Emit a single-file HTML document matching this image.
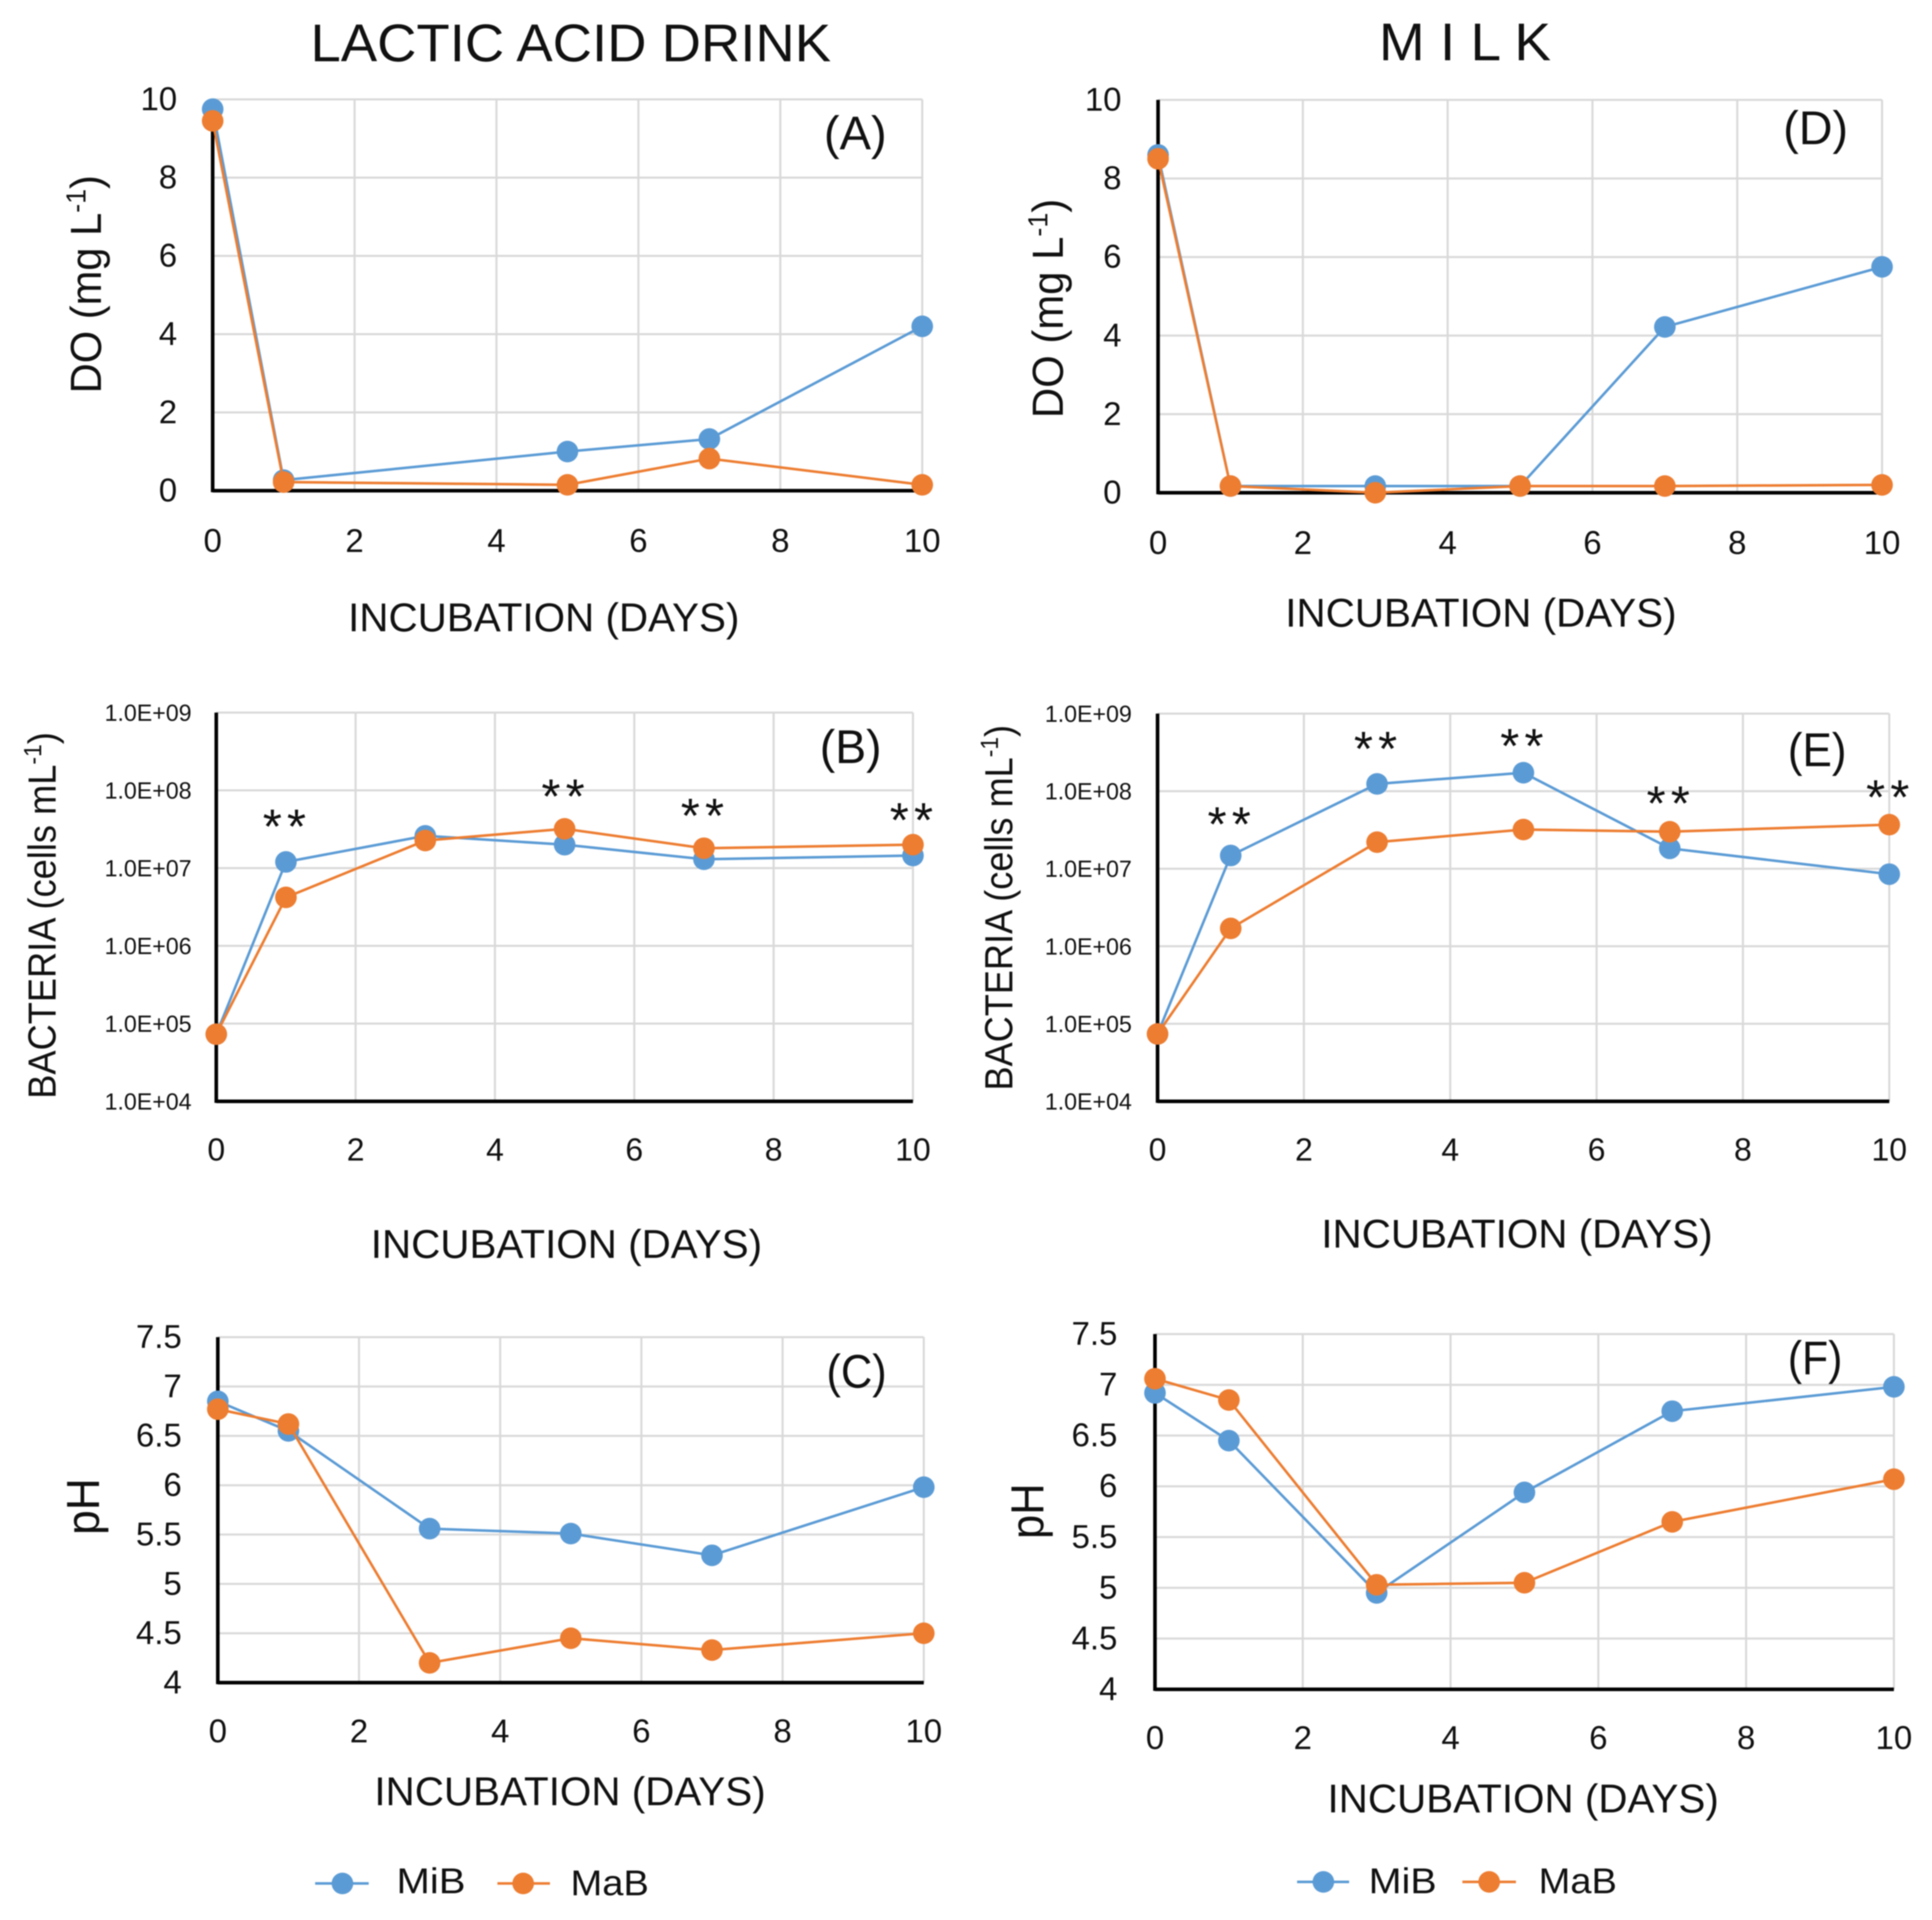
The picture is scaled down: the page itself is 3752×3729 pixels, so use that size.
<!DOCTYPE html>
<html>
<head>
<meta charset="utf-8">
<title>Incubation charts</title>
<style>
html,body{margin:0;padding:0;background:#fff}
svg{display:block;filter:blur(1px)}
text{font-family:"Liberation Sans",sans-serif;fill:#111}
</style>
</head>
<body>
<svg id="figure" xmlns="http://www.w3.org/2000/svg" width="3752" height="3729" viewBox="0 0 3752 3729">
<rect width="3752" height="3729" fill="#ffffff"/>
<text x="603" y="119" font-size="103" textLength="1011" lengthAdjust="spacingAndGlyphs">LACTIC ACID DRINK</text>
<text x="2678" y="117" font-size="103" textLength="334" lengthAdjust="spacingAndGlyphs">M I L K</text>

<text x="676" y="1226" font-size="78" textLength="760" lengthAdjust="spacingAndGlyphs">INCUBATION (DAYS)</text>
<text x="2496" y="1217" font-size="78" textLength="760" lengthAdjust="spacingAndGlyphs">INCUBATION (DAYS)</text>
<text x="720" y="2443" font-size="78" textLength="760" lengthAdjust="spacingAndGlyphs">INCUBATION (DAYS)</text>
<text x="2566" y="2423" font-size="78" textLength="760" lengthAdjust="spacingAndGlyphs">INCUBATION (DAYS)</text>
<text x="727" y="3506" font-size="78" textLength="760" lengthAdjust="spacingAndGlyphs">INCUBATION (DAYS)</text>
<text x="2578" y="3520" font-size="78" textLength="760" lengthAdjust="spacingAndGlyphs">INCUBATION (DAYS)</text>

<text transform="translate(196,764) rotate(-90)" font-size="84" textLength="424" lengthAdjust="spacingAndGlyphs">DO (mg L<tspan font-size="54" dy="-30">-1</tspan><tspan dy="30">)</tspan></text>
<text transform="translate(2064,812) rotate(-90)" font-size="84" textLength="426" lengthAdjust="spacingAndGlyphs">DO (mg L<tspan font-size="54" dy="-30">-1</tspan><tspan dy="30">)</tspan></text>
<text transform="translate(108,2134) rotate(-90)" font-size="76" textLength="712" lengthAdjust="spacingAndGlyphs">BACTERIA (cells mL<tspan font-size="48" dy="-28">-1</tspan><tspan dy="28">)</tspan></text>
<text transform="translate(1966,2118) rotate(-90)" font-size="76" textLength="710" lengthAdjust="spacingAndGlyphs">BACTERIA (cells mL<tspan font-size="48" dy="-28">-1</tspan><tspan dy="28">)</tspan></text>
<text transform="translate(192,2981) rotate(-90)" font-size="90" textLength="110" lengthAdjust="spacingAndGlyphs">pH</text>
<text transform="translate(2026,2989) rotate(-90)" font-size="90" textLength="108" lengthAdjust="spacingAndGlyphs">pH</text>

<g id="panels"></g>

<text x="1600" y="290" font-size="92" textLength="122" lengthAdjust="spacingAndGlyphs">(A)</text>
<text x="3463" y="280" font-size="92" textLength="126" lengthAdjust="spacingAndGlyphs">(D)</text>
<text x="1592" y="1482" font-size="92" textLength="120" lengthAdjust="spacingAndGlyphs">(B)</text>
<text x="3472" y="1488" font-size="92" textLength="114" lengthAdjust="spacingAndGlyphs">(E)</text>
<text x="1605" y="2695" font-size="92" textLength="117" lengthAdjust="spacingAndGlyphs">(C)</text>
<text x="3472" y="2669" font-size="92" textLength="106" lengthAdjust="spacingAndGlyphs">(F)</text>

<g>
  <line x1="612" y1="3658" x2="716" y2="3658" stroke="#5b9bd5" stroke-width="5"/>
  <circle cx="665" cy="3658" r="21" fill="#5b9bd5"/>
  <text x="770" y="3677" font-size="70" textLength="134" lengthAdjust="spacingAndGlyphs">MiB</text>
  <line x1="966" y1="3658" x2="1068" y2="3658" stroke="#ed7d31" stroke-width="5"/>
  <circle cx="1016" cy="3658" r="21" fill="#ed7d31"/>
  <text x="1108" y="3681" font-size="70" textLength="152" lengthAdjust="spacingAndGlyphs">MaB</text>
</g>
<g>
  <line x1="2519" y1="3655" x2="2620" y2="3655" stroke="#5b9bd5" stroke-width="5"/>
  <circle cx="2570" cy="3655" r="21" fill="#5b9bd5"/>
  <text x="2658" y="3677" font-size="70" textLength="132" lengthAdjust="spacingAndGlyphs">MiB</text>
  <line x1="2840" y1="3655" x2="2944" y2="3655" stroke="#ed7d31" stroke-width="5"/>
  <circle cx="2892" cy="3655" r="21" fill="#ed7d31"/>
  <text x="2988" y="3677" font-size="70" textLength="152" lengthAdjust="spacingAndGlyphs">MaB</text>
</g>
</svg>

<script>
// Shared axis ticks
var dayTicks = [0, 2, 4, 6, 8, 10];
var doTicks = [0, 2, 4, 6, 8, 10];
var bacteriaTicks = [10000, 100000, 1000000, 10000000, 100000000, 1000000000];
var bacteriaTickLabels = ['1.0E+04', '1.0E+05', '1.0E+06', '1.0E+07', '1.0E+08', '1.0E+09'];
var phTicks = [4, 4.5, 5, 5.5, 6, 6.5, 7, 7.5];
var phTickLabels = ['4', '4.5', '5', '5.5', '6', '6.5', '7', '7.5'];

// Panel A: lactic acid drink, dissolved oxygen
var aDays = [0, 1, 5, 7, 10];
var aMiB = [9.75, 0.27, 1.0, 1.32, 4.2];
var aMaB = [9.45, 0.22, 0.15, 0.82, 0.15];

// Panel B: lactic acid drink, bacteria
var bDays = [0, 1, 3, 5, 7, 10];
var bMiB = [7.3e4, 1.2e7, 2.6e7, 2.0e7, 1.3e7, 1.45e7];
var bMaB = [7.3e4, 4.2e6, 2.26e7, 3.2e7, 1.8e7, 2.0e7];
var bStarDays = [1, 5, 7, 10];
var bStarLevels = [4.3e7, 1.05e8, 5.9e7, 5.2e7];

// Panel C: lactic acid drink, pH
var cDays = [0, 1, 3, 5, 7, 10];
var cMiB = [6.85, 6.55, 5.56, 5.51, 5.29, 5.98];
var cMaB = [6.77, 6.62, 4.2, 4.45, 4.33, 4.5];

// Panel D: milk, dissolved oxygen
var dDays = [0, 1, 3, 5, 7, 10];
var dMiB = [8.6, 0.17, 0.17, 0.17, 4.22, 5.75];
var dMaB = [8.5, 0.17, 0.0, 0.17, 0.17, 0.2];

// Panel E: milk, bacteria
var eDays = [0, 1, 3, 5, 7, 10];
var eMiB = [7.4e4, 1.48e7, 1.24e8, 1.73e8, 1.83e7, 8.5e6];
var eMaB = [7.4e4, 1.7e6, 2.2e7, 3.2e7, 3.0e7, 3.7e7];
var eStarDays = [1, 3, 5, 7, 10];
var eStarLevels = [4.7e7, 4.4e8, 4.8e8, 8.7e7, 1.05e8];

// Panel F: milk, pH
var fDays = [0, 1, 3, 5, 7, 10];
var fMiB = [6.92, 6.45, 4.95, 5.94, 6.74, 6.98];
var fMaB = [7.06, 6.85, 5.03, 5.05, 5.65, 6.07];

var NS = 'http://www.w3.org/2000/svg';
var BLUE = '#5b9bd5';
var ORANGE = '#ed7d31';
var GRID = '#d9d9d9';

var panels = [
  {id:'a', days:aDays, mib:aMiB, mab:aMaB, left:413, right:1791, top:193, bottom:953, min:0, max:10, log:false, ticks:doTicks, labels:doTicks, labelRight:344, fontY:64, shiftY:21, baseX:1072, fontX:64},
  {id:'b', days:bDays, mib:bMiB, mab:bMaB, left:420, right:1773, top:1384, bottom:2139, min:1e4, max:1e9, log:true, ticks:bacteriaTicks, labels:bacteriaTickLabels, labelRight:372, fontY:45, shiftY:16, baseX:2254, fontX:62, starDays:bStarDays, starLevels:bStarLevels},
  {id:'c', days:cDays, mib:cMiB, mab:cMaB, left:423, right:1794, top:2597, bottom:3268, min:4, max:7.5, log:false, ticks:phTicks, labels:phTickLabels, labelRight:353, fontY:64, shiftY:21, baseX:3384, fontX:64},
  {id:'d', days:dDays, mib:dMiB, mab:dMaB, left:2249, right:3655, top:194, bottom:957, min:0, max:10, log:false, ticks:doTicks, labels:doTicks, labelRight:2178, fontY:64, shiftY:21, baseX:1076, fontX:64},
  {id:'e', days:eDays, mib:eMiB, mab:eMaB, left:2248, right:3669, top:1386, bottom:2139, min:1e4, max:1e9, log:true, ticks:bacteriaTicks, labels:bacteriaTickLabels, labelRight:2198, fontY:45, shiftY:16, baseX:2254, fontX:62, starDays:eStarDays, starLevels:eStarLevels},
  {id:'f', days:fDays, mib:fMiB, mab:fMaB, left:2243, right:3678, top:2591, bottom:3281, min:4, max:7.5, log:false, ticks:phTicks, labels:phTickLabels, labelRight:2170, fontY:64, shiftY:21, baseX:3397, fontX:64}
];

function make(tag, parent) {
  var el = document.createElementNS(NS, tag);
  parent.appendChild(el);
  return el;
}
function setAll(el, pairs) {
  for (var k in pairs) { el.setAttribute(k, pairs[k]); }
}
function xScale(p) {
  return function (day) { return p.left + (day / 10) * (p.right - p.left); };
}
function yScale(p) {
  if (p.log) {
    var lo = Math.log10(p.min), hi = Math.log10(p.max);
    return function (v) { return p.bottom - (Math.log10(v) - lo) / (hi - lo) * (p.bottom - p.top); };
  }
  return function (v) { return p.bottom - (v - p.min) / (p.max - p.min) * (p.bottom - p.top); };
}

function drawSeries(g, p, values, color, sx, sy) {
  var pts = p.days.map(function (d, i) { return sx(d).toFixed(1) + ',' + sy(values[i]).toFixed(1); }).join(' ');
  var line = make('polyline', g);
  
  
  setAll(line, {points: pts, fill: 'none', stroke: color, 'stroke-width': 5, 'stroke-linejoin': 'round'});
  p.days.forEach(function (d, i) {
    var dot = make('circle', g);
    
    
    setAll(dot, {cx: sx(d), cy: sy(values[i]), r: 21, fill: color});
  });
}

var root = document.getElementById('panels');
panels.forEach(function (p) {
  var sx = xScale(p), sy = yScale(p);
  var g = make('g', root);
  
  
  g.setAttribute('id', 'panel-' + p.id);

  p.ticks.forEach(function (t) {
    var gl = make('line', g);
    
    
    setAll(gl, {x1: p.left, x2: p.right, y1: sy(t), y2: sy(t), stroke: GRID, 'stroke-width': 4});
  });
  dayTicks.forEach(function (t) {
    var gl = make('line', g);
    
    
    setAll(gl, {x1: sx(t), x2: sx(t), y1: p.top, y2: p.bottom, stroke: GRID, 'stroke-width': 4});
  });

  var yAxis = make('line', g);
  
  
  setAll(yAxis, {x1: p.left, x2: p.left, y1: p.top, y2: p.bottom + 3, stroke: '#000', 'stroke-width': 7});
  var xAxis = make('line', g);
  
  
  setAll(xAxis, {x1: p.left, x2: p.right, y1: p.bottom, y2: p.bottom, stroke: '#000', 'stroke-width': 7});

  p.ticks.forEach(function (t, i) {
    var lab = make('text', g);
    
    
    setAll(lab, {x: p.labelRight, y: sy(t) + p.shiftY, 'font-size': p.fontY, 'text-anchor': 'end'});
    lab.textContent = p.labels[i];
  });
  dayTicks.forEach(function (t) {
    var lab = make('text', g);
    
    
    setAll(lab, {x: sx(t), y: p.baseX, 'font-size': p.fontX, 'text-anchor': 'middle'});
    lab.textContent = t;
  });

  drawSeries(g, p, p.mib, BLUE, sx, sy);
  drawSeries(g, p, p.mab, ORANGE, sx, sy);

  (p.starDays || []).forEach(function (d, i) {
    var star = make('text', g);
    
    
    setAll(star, {x: sx(d) + 2, y: sy(p.starLevels[i]) + 47, 'font-size': 95, 'text-anchor': 'middle', 'letter-spacing': 10});
    star.textContent = '**';
  });
});
</script>
</body>
</html>
